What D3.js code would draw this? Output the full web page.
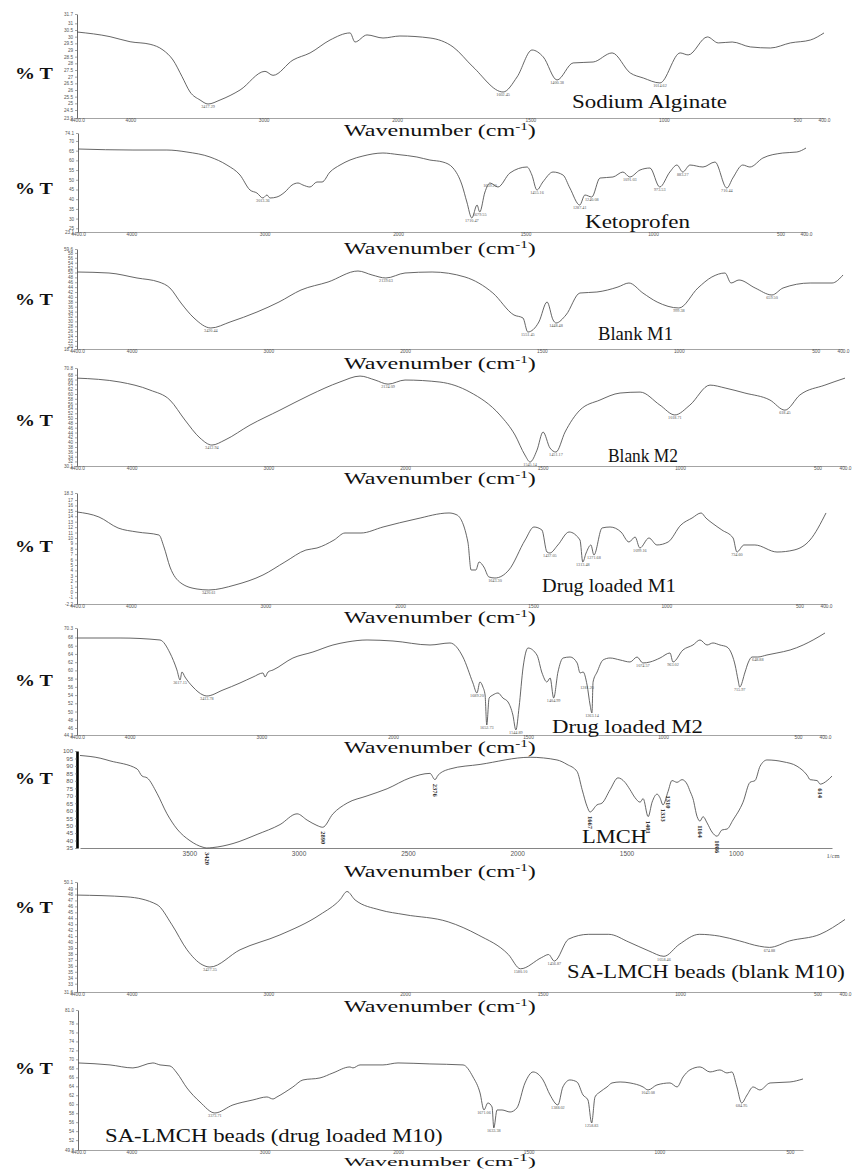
<!DOCTYPE html>
<html>
<head>
<meta charset="utf-8">
<script src="https://cdn.jsdelivr.net/npm/d3@7"></script>
<style>
  body { margin: 0; background: #fff; }
  svg text { font-family: "Liberation Serif", "Times New Roman", serif; }
  .tick text { font-family: "Liberation Sans", Arial, sans-serif; }
</style>
</head>
<body>
<svg id="chart" width="858" height="1169"></svg>
<script>
// ---------- spectra: [wavenumber (cm-1), %T] ----------
const sodiumAlginate = [
  [4400,30.35],[4152,30.0],[4002,29.62],[3852,29.43],[3755,29.0],[3680,28.25],[3612,27.0],[3552,25.85],
  [3477,25.25],[3417.29,24.95],[3327,25.25],[3177,26.0],[2990,27.4],[2930,27.1],[2780,28.25],[2652,28.78],
  [2502,29.75],[2352,30.28],[2315,29.6],[2225,30.13],[2105,29.9],[1989,30.05],[1876,29.9],[1790,29.23],
  [1715,27.73],[1602.45,25.85],[1550,26.98],[1494,29.0],[1452,28.48],[1400.38,26.75],[1340,28.03],
  [1265,28.1],[1194,28.78],[1126,27.28],[1077,26.9],[1014.62,26.53],[939,28.78],[909,28.63],[837,29.98],
  [796,29.53],[744,29.6],[676,29.23],[601,29.15],[526,29.53],[451,29.75],[400,30.28]
];
const ketoprofen = [
  [4400,65.85],[3988,65.33],[3733,65.33],[3583,64.3],[3410,61.73],[3283,57.6],[3185,52.46],[3110,44.73],
  [3058,43.19],[3013.36,40.61],[2983,42.16],[2960,40.61],[2908,41.13],[2848,43.7],[2795,47.3],[2750,48.34],
  [2713,47.3],[2660,46.28],[2608,48.85],[2570,48.85],[2510,54.0],[2435,57.6],[2360,60.18],[2263,62.24],
  [2113,63.79],[2000,63.0],[1926,61.73],[1875,60.18],[1824,59.15],[1784,56.06],[1749,47.3],[1730,38.55],
  [1710.47,30.31],[1690,37.0],[1679.55,33.4],[1659,43.7],[1639.20,48.34],[1608,46.28],[1561,53.5],
  [1494,56.58],[1475,52.46],[1455.16,44.73],[1432,48.85],[1392,54.0],[1353,52.46],[1326,45.76],
  [1287.41,37.0],[1267,42.16],[1240.08,41.13],[1208,50.9],[1157,51.43],[1118,54.0],[1091.03,51.43],
  [1051,55.03],[1012,56.06],[973.53,46.28],[934,54.0],[906,57.6],[883.27,54.0],[855,57.6],[804,56.58],
  [757,59.15],[710.44,45.76],[687,50.9],[648,57.6],[620,56.58],[569,61.21],[491,63.79],[436,64.3],[400,66.36]
];
const blankM1 = [
  [4400,50.19],[4166,49.78],[3961,47.74],[3800,46.1],[3720,43.65],[3639,37.51],[3544,31.38],[3420.44,27.29],
  [3280,29.74],[3083,33.83],[2922,37.92],[2761,42.83],[2563,46.1],[2344,50.6],[2241,48.97],[2139.63,47.74],
  [2000,49.78],[1901,50.19],[1781,48.15],[1679,41.6],[1602,32.61],[1569,31.38],[1551.45,25.65],[1511,29.74],
  [1481,37.92],[1459,30.56],[1448.48,29.33],[1412,32.61],[1361,41.6],[1299,42.01],[1222,44.06],[1182,45.69],
  [1131,41.6],[1079,37.92],[999.38,35.47],[930,43.65],[879,48.15],[831,49.78],[809,45.69],[780,46.92],
  [721,43.65],[659.50,40.79],[619,43.65],[520,45.69],[440,45.69],[400,48.97]
];
const blankM2 = [
  [4400,66.6],[4085,64.96],[3866,61.64],[3720,57.49],[3610,49.19],[3500,41.72],[3412.94,38.8],[3317,40.9],
  [3134,47.1],[2915,53.3],[2695,59.6],[2476,65.0],[2329,67.45],[2219,65.8],[2124.09,64.1],[2000,65.8],
  [1873,64.96],[1764,60.8],[1655,51.3],[1600,42.97],[1564,34.67],[1545.14,31.76],[1520,36.7],[1498,44.2],
  [1473,37.6],[1451.17,35.9],[1418,44.2],[1364,53.3],[1291,57.5],[1218,60.4],[1145,60.8],[1073,55.4],
  [1018.71,51.3],[964,55.4],[891,63.7],[836,62.5],[764,60.4],[673,57.5],[618.45,53.3],[564,59.6],
  [473,63.7],[400,66.6]
];
const drugLoadedM1 = [
  [4400,14.79],[4237,13.87],[4095,11.84],[3954,11.1],[3791,10.54],[3754,8.33],[3709,4.63],[3628,1.68],
  [3508,0.57],[3420.61,0.39],[3226,1.31],[3018,3.16],[2855,5.56],[2699,7.77],[2617,8.14],[2490,9.62],
  [2409,10.91],[2290,10.91],[2126,12.02],[1940,13.5],[1816,14.61],[1786,14.24],[1745,9.25],[1733,4.08],
  [1715,4.08],[1703,5.56],[1685,4.63],[1666,2.79],[1643.30,2.6],[1591,4.08],[1530,9.62],[1497,12.02],
  [1467,11.47],[1448,7.4],[1437.05,7.22],[1407,8.7],[1365,11.1],[1324,9.62],[1313.48,5.56],[1301,7.22],
  [1283,8.7],[1271.68,6.85],[1241,11.84],[1211,12.02],[1170,11.1],[1140,9.25],[1117,10.17],[1099.16,8.14],
  [1065,9.99],[1035,8.7],[993,9.25],[945,12.39],[903,13.68],[869,14.61],[851,13.68],[828,12.76],[791,11.47],
  [749,9.99],[734.60,7.4],[708,8.7],[667,8.7],[584,7.4],[520,7.77],[460,9.62],[400,14.61]
];
const drugLoadedM2 = [
  [4400,67.87],[4073,67.87],[3770,67.39],[3694,64.23],[3641,60.1],[3617.15,57.67],[3603,59.61],[3580,58.39],
  [3519,55.96],[3443,54.02],[3413.78,53.78],[3291,55.24],[3162,56.94],[3063,58.39],[2987,59.37],[2972,58.39],
  [2949,59.61],[2911,60.1],[2760,63.01],[2608,64.47],[2456,66.17],[2349,66.9],[2197,67.39],[2000,67.14],
  [1863,66.17],[1789,66.66],[1741,63.25],[1704,56.94],[1689.20,54.51],[1678,57.18],[1667,55.96],[1659,54.02],
  [1652.73,46.73],[1644,53.29],[1630,54.02],[1611,54.51],[1593,53.29],[1574,52.32],[1556,49.16],
  [1544.89,45.52],[1533,51.1],[1518,60.82],[1500,65.44],[1467,63.74],[1448,59.37],[1430,57.18],[1418,58.15],
  [1404.99,53.29],[1389,59.61],[1370,63.01],[1344,63.25],[1318,61.8],[1307,59.37],[1296,59.61],
  [1281.20,56.45],[1270,51.59],[1263.14,49.65],[1259,57.18],[1244,59.61],[1222,62.53],[1196,63.01],
  [1159,62.53],[1122,62.04],[1096,63.25],[1074.57,61.8],[1048,62.04],[1011,63.01],[974,64.23],[963.02,62.04],
  [926,64.96],[889,66.17],[863,67.39],[837,66.17],[815,66.66],[789,66.17],[763,65.68],[744,63.74],[733,61.31],
  [722,57.67],[715.97,55.96],[696,59.61],[685,61.8],[670,63.25],[648.88,63.25],[615,63.74],[578,64.23],
  [529,64.96],[481,66.17],[444,67.39],[400,69.09]
];
const lmch = [
  [4000,97.0],[3908,95.2],[3863,93.4],[3739,88.0],[3716,83.2],[3693,82.0],[3648,71.7],[3602,57.9],[3556,47.7],
  [3497,39.9],[3437,35.5],[3420,35.0],[3392,35.3],[3300,38.0],[3190,44.1],[3085,50.7],[3007,57.9],[2961,53.7],
  [2916,50.1],[2890,48.9],[2843,57.9],[2778,65.1],[2687,69.9],[2595,74.7],[2490,82.0],[2399,85.0],[2376,80.8],
  [2362,83.8],[2307,88.0],[2170,91.0],[1941,95.8],[1818,94.0],[1772,91.0],[1726,86.2],[1703,74.1],[1680,62.7],
  [1667,59.1],[1635,63.9],[1612,65.1],[1575,74.1],[1539,82.0],[1507,79.0],[1484,74.1],[1461,68.7],[1438,65.7],
  [1424,68.1],[1401,56.0],[1383,65.7],[1360,71.1],[1347,68.7],[1333,63.9],[1310,72.9],[1292,80.2],[1269,79.0],
  [1246,80.8],[1223,77.8],[1209,72.9],[1196,68.1],[1177,56.0],[1164,53.0],[1150,56.0],[1131,51.7],[1109,45.7],
  [1086,42.9],[1063,47.1],[1040,47.7],[1013,53.7],[967,65.7],[935,79.0],[912,80.2],[889,89.8],[857,94.0],
  [784,92.8],[720,89.8],[674,83.8],[660,80.8],[628,80.2],[614,77.8],[582,80.2],[560,83.2]
];
const blankM10 = [
  [4400,47.9],[4034,47.6],[3815,46.3],[3705,42.9],[3595,38.7],[3485,36.2],[3427.35,35.8],[3207,38.7],
  [2915,41.2],[2622,44.6],[2476,47.1],[2424,48.5],[2366,47.1],[2183,45.4],[2000,44.6],[1843,43.4],[1734,41.2],
  [1624,37.9],[1580.10,35.5],[1503,37.4],[1478,37.9],[1456.87,36.8],[1405,40.5],[1332,41.3],[1259,41.3],
  [1186,40.0],[1113,38.5],[1058.46,37.6],[1003,39.6],[930,41.3],[857,41.0],[784,40.2],[711,39.3],
  [674.88,39.1],[601,40.2],[491,41.3],[400,43.8]
];
const drugLoadedM10 = [
  [4400,69.2],[4160,68.76],[3988,68.09],[3838,69.2],[3785,68.76],[3710,68.53],[3658,66.97],[3583,63.63],
  [3485,60.5],[3373.71,58.05],[3238,59.84],[3088,60.95],[2983,61.62],[2938,61.17],[2908,61.62],[2788,63.85],
  [2713,65.41],[2585,65.86],[2488,66.97],[2360,68.31],[2338,68.09],[2285,68.76],[2113,68.76],[2000,69.2],
  [1878,68.98],[1751,68.76],[1713,66.08],[1686,62.51],[1671.06,58.72],[1656,60.28],[1640,59.39],
  [1633.38,54.71],[1621,58.72],[1602,58.72],[1571,58.27],[1545,59.17],[1514,64.74],[1483,67.19],[1445,65.41],
  [1418,62.07],[1388.02,59.84],[1369,63.85],[1342,65.41],[1315,64.96],[1292,62.07],[1273,60.95],
  [1258.83,55.82],[1246,61.62],[1227,62.73],[1200,63.85],[1181,64.74],[1150,64.96],[1112,64.74],[1062,63.85],
  [1043.08,63.18],[1009,64.3],[959,64.74],[932,63.85],[909,66.08],[883,67.64],[844,68.31],[806,67.19],
  [768,67.64],[741,66.97],[722,67.19],[703,63.85],[684.95,60.28],[664,62.07],[641,63.85],[615,63.18],
  [576,64.74],[500,64.96],[450,65.63]
];

// ---------- annotated band positions (cm-1) ----------
const sodiumAlginatePeaks = [3417.29, 1602.45, 1400.38, 1014.62];
const ketoprofenPeaks = [3013.36, 1710.47, 1679.55, 1639.20, 1455.16, 1287.41, 1240.08, 1091.03, 973.53, 883.27, 710.44];
const blankM1Peaks = [3420.44, 2139.63, 1551.45, 1448.48, 999.38, 659.50];
const blankM2Peaks = [3412.94, 2124.09, 1545.14, 1451.17, 1018.71, 618.45];
const drugLoadedM1Peaks = [3420.61, 1643.30, 1437.05, 1313.48, 1271.68, 1099.16, 734.60];
const drugLoadedM2Peaks = [3617.15, 3413.78, 1689.20, 1652.73, 1544.89, 1404.99, 1281.20, 1263.14, 1074.57, 963.02, 715.97, 648.88];
const lmchPeaks = [3420, 2890, 2376, 1667, 1401, 1333, 1310, 1164, 1086, 614];
const blankM10Peaks = [3427.35, 1580.10, 1456.87, 1058.46, 674.88];
const drugLoadedM10Peaks = [3373.71, 1671.06, 1633.38, 1388.02, 1258.83, 1043.08, 684.95];

// ---------- tick labels ----------
const sodiumAlginateTicks = [23.9,24.5,25,25.5,26,26.5,27,27.5,28,28.5,29,29.5,30,30.5,31,31.7];
const ketoprofenTicks = [23.1,25,30,35,40,45,50,55,60,65,70,74.1];
const blankM1Ticks = [18.7,20,22,24,26,28,30,32,34,36,38,40,42,44,46,48,50,52,54,56,58,59.6];
const blankM2Ticks = [30.1,32,34,36,38,40,42,44,46,48,50,52,54,56,58,60,62,64,66,68,70.8];
const drugLoadedM1Ticks = [-2.2,-1,0,1,2,3,4,5,6,7,8,9,10,11,12,13,14,15,16,17,18.3];
const drugLoadedM2Ticks = [44.3,46,48,50,52,54,56,58,60,62,64,66,68,70.3];
const lmchTicks = [35,40,45,50,55,60,65,70,75,80,85,90,95,100];
const blankM10Ticks = [31.6,33,34,35,36,37,38,39,40,41,42,43,44,45,46,47,48,49,50.1];
const drugLoadedM10Ticks = [49.8,52,54,56,58,60,62,64,66,68,70,72,74,76,78,81.0];
const wavenumberTicks = [4400,4000,3000,2000,1500,1000,500,400];
const lmchWavenumberTicks = [3500,3000,2500,2000,1500,1000];
const drugLoadedM10WavenumberTicks = [4400,4000,3000,2000,1500,1000,500];

// ---------- panel layout ----------
const panels = [
  { name: "Sodium Alginate", data: sodiumAlginate, peaks: sodiumAlginatePeaks, yTicks: sodiumAlginateTicks, xTicks: wavenumberTicks,
    xDomain: [4400,2000,400], xRange: [77,397,824], yDomain: [23.9,31.7], yTop: 14, yBottom: 118,
    pctY: 73, wnY: 136, label: { x: 572, y: 108, w: 155 } },
  { name: "Ketoprofen", data: ketoprofen, peaks: ketoprofenPeaks, yTicks: ketoprofenTicks, xTicks: wavenumberTicks,
    xDomain: [4400,2000,400], xRange: [78,398,806], yDomain: [23.1,74.1], yTop: 133, yBottom: 232,
    pctY: 188, wnY: 254, label: { x: 585, y: 228, w: 105 } },
  { name: "Blank M1", data: blankM1, peaks: blankM1Peaks, yTicks: blankM1Ticks, xTicks: wavenumberTicks,
    xDomain: [4400,2000,400], xRange: [77,405,843], yDomain: [18.7,59.6], yTop: 249, yBottom: 349,
    pctY: 299, wnY: 369, label: { x: 598, y: 340, w: 75 } },
  { name: "Blank M2", data: blankM2, peaks: blankM2Peaks, yTicks: blankM2Ticks, xTicks: wavenumberTicks,
    xDomain: [4400,2000,400], xRange: [77,405,845], yDomain: [30.1,70.8], yTop: 368, yBottom: 466,
    pctY: 420, wnY: 484, label: { x: 608, y: 462, w: 70 } },
  { name: "Drug loaded M1", data: drugLoadedM1, peaks: drugLoadedM1Peaks, yTicks: drugLoadedM1Ticks, xTicks: wavenumberTicks,
    xDomain: [4400,2000,400], xRange: [77,400,826], yDomain: [-2.2,18.3], yTop: 493, yBottom: 604,
    pctY: 546, wnY: 623, label: { x: 542, y: 592, w: 134 } },
  { name: "Drug loaded M2", data: drugLoadedM2, peaks: drugLoadedM2Peaks, yTicks: drugLoadedM2Ticks, xTicks: wavenumberTicks,
    xDomain: [4400,2000,400], xRange: [77,393,825], yDomain: [44.3,70.3], yTop: 628, yBottom: 735,
    pctY: 680, wnY: 753, label: { x: 552, y: 733, w: 151 } },
  { name: "LMCH", data: lmch, peaks: lmchPeaks, yTicks: lmchTicks, xTicks: lmchWavenumberTicks,
    xDomain: [4000,560], xRange: [80,832], yDomain: [35,100], yTop: 751, yBottom: 848,
    pctY: 778, wnY: 877, label: { x: 582, y: 843, w: 65 }, heavyAxis: true, rotatedPeaks: true, unit: "1/cm" },
  { name: "SA-LMCH beads (blank M10)", data: blankM10, peaks: blankM10Peaks, yTicks: blankM10Ticks, xTicks: wavenumberTicks,
    xDomain: [4400,2000,400], xRange: [77,405,845], yDomain: [31.6,50.1], yTop: 882, yBottom: 992,
    pctY: 907, wnY: 1012, label: { x: 567, y: 978, w: 278 } },
  { name: "SA-LMCH beads (drug loaded M10)", data: drugLoadedM10, peaks: drugLoadedM10Peaks, yTicks: drugLoadedM10Ticks, xTicks: drugLoadedM10WavenumberTicks,
    xDomain: [4400,2000,450], xRange: [78,398,803], yDomain: [49.8,81.0], yTop: 1010, yBottom: 1150,
    pctY: 1068, wnY: 1165.8, wnSize: 13.5, supRise: 5, tickPad: 0.3, label: { x: 105, y: 1142, w: 338 } }
];

const svg = d3.select("#chart");

// text drawn at natural size, then stretched horizontally to a given width
function stretchedText(parts, x, y, width, size, weight, anchor) {
  const g = svg.append("g");
  const t = g.append("text").attr("font-size", size).attr("font-weight", weight || "normal").attr("fill", "#111");
  parts.forEach(p => {
    const s = t.append("tspan").text(p.text);
    if (p.size) s.attr("font-size", p.size);
    if (p.dy) s.attr("dy", p.dy);
  });
  const w = t.node().getComputedTextLength();
  const sx = width / w;
  const x0 = anchor === "middle" ? x - width / 2 : x;
  g.attr("transform", `translate(${x0},${y}) scale(${sx},1)`);
}

// end ticks of the %T scale carry one decimal
function endFormat(ticks) {
  const first = ticks[0], last = ticks[ticks.length - 1];
  return d => (d === first || d === last) ? d.toFixed(1) : String(d);
}

function drawPanel(p) {
  const x = d3.scaleLinear().domain(p.xDomain).range(p.xRange);
  const y = d3.scaleLinear().domain(p.yDomain).range([p.yBottom, p.yTop]);
  const g = svg.append("g");

  // wavenumber axis
  const xFmt = p.heavyAxis ? d => String(d) : d => (d === 4400 || d === 400) ? d.toFixed(1) : String(d);
  const pad = p.tickPad !== undefined ? p.tickPad : (p.heavyAxis ? 3 : 1);
  const xa = g.append("g").attr("transform", `translate(0,${p.yBottom})`)
    .call(d3.axisBottom(x).tickValues(p.xTicks).tickSize(0).tickSizeOuter(0).tickPadding(pad).tickFormat(xFmt));
  xa.select(".domain").attr("stroke", p.heavyAxis ? "#777" : "#9a9a9a").attr("stroke-width", 0.9);
  xa.selectAll("text").attr("font-size", p.heavyAxis ? 6.5 : 4.8).attr("fill", "#555");
  if (p.unit) {
    g.append("text").attr("x", p.xRange[1] + 1).attr("y", p.yBottom + 9.5).attr("text-anchor", "middle")
      .attr("font-size", 6.5).attr("fill", "#555").attr("font-family", "Liberation Sans, Arial, sans-serif").text(p.unit);
  }

  // %T axis
  const ya = g.append("g").attr("transform", `translate(${p.xRange[0] - (p.heavyAxis ? 3 : 0)},0)`)
    .call(d3.axisLeft(y).tickValues(p.yTicks).tickSize(2).tickSizeOuter(0).tickPadding(2)
      .tickFormat(p.heavyAxis ? d => String(d) : endFormat(p.yTicks)));
  ya.select(".domain").attr("stroke", p.heavyAxis ? "#000" : "#444").attr("stroke-width", p.heavyAxis ? 2.6 : 0.8);
  ya.selectAll(".tick line").attr("stroke", "#666").attr("stroke-width", 0.6);
  ya.selectAll("text").attr("font-size", p.heavyAxis ? 6 : 4.6).attr("fill", "#555");

  // spectrum
  g.append("path").datum(p.data)
    .attr("fill", "none").attr("stroke", "#4a4a4a").attr("stroke-width", 0.85)
    .attr("d", d3.line().x(d => x(d[0])).y(d => y(d[1])).curve(d3.curveMonotoneX));

  // band annotations
  const lookup = new Map(p.data.map(d => [d[0], d[1]]));
  p.peaks.forEach(wn => {
    const v = lookup.get(wn);
    if (p.rotatedPeaks) {
      g.append("text").attr("transform", `translate(${x(wn) - 2},${y(v) + 4}) rotate(90)`)
        .attr("font-size", 6.5).attr("font-weight", "bold").attr("fill", "#333")
        .attr("font-family", "Liberation Sans, Arial, sans-serif").text(String(wn));
    } else {
      g.append("text").attr("x", x(wn)).attr("y", y(v) + 4.2).attr("text-anchor", "middle")
        .attr("font-size", 4.2).attr("fill", "#555")
        .attr("font-family", "Liberation Sans, Arial, sans-serif").text(wn.toFixed(2));
    }
  });

  // titles
  const rise = p.supRise || 6;
  stretchedText([{ text: "%" }, { text: " T" }], 15, p.pctY + 6, 38, 17, "bold");
  stretchedText([{ text: "Wavenumber (cm" }, { text: "-1", size: 10, dy: -rise }, { text: ")", dy: rise }],
    440, p.wnY, 192, p.wnSize || 16, "normal", "middle");
  stretchedText([{ text: p.name }], p.label.x, p.label.y, p.label.w, 18, "normal");
}

panels.forEach(drawPanel);
</script>
</body>
</html>
